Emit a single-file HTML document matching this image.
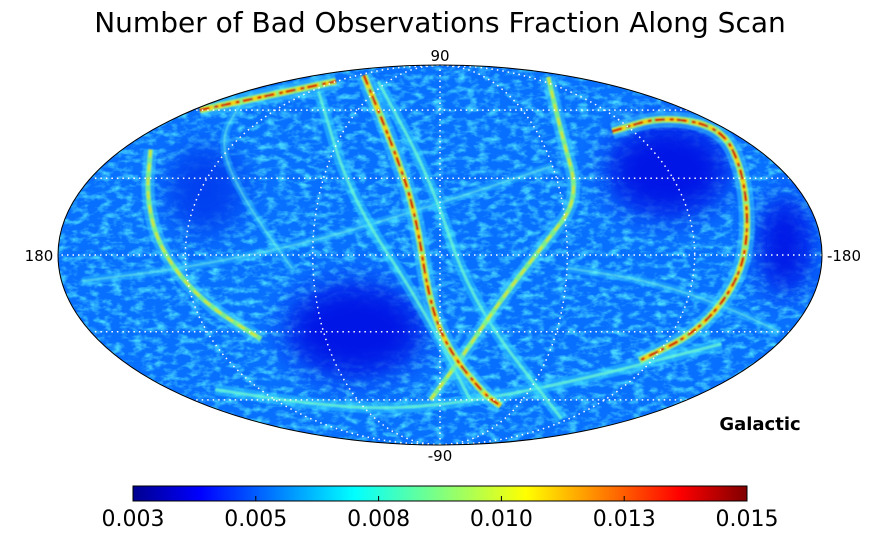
<!DOCTYPE html>
<html><head><meta charset="utf-8"><style>
html,body{margin:0;padding:0;background:#fff;}
svg{display:block;font-family:"DejaVu Sans","Liberation Sans",sans-serif;}
</style></head><body>
<svg id="chart" width="872" height="537" viewBox="0 0 872 537">
<defs>
  <clipPath id="ell"><ellipse cx="440" cy="255" rx="382" ry="190"/></clipPath>
  <linearGradient id="jet" x1="0" x2="1" y1="0" y2="0">
    <stop offset="0" stop-color="#00008f"/><stop offset="0.11" stop-color="#0000ff"/>
    <stop offset="0.36" stop-color="#00ffff"/><stop offset="0.5" stop-color="#80ff80"/>
    <stop offset="0.64" stop-color="#ffff00"/><stop offset="0.89" stop-color="#ff0000"/>
    <stop offset="1" stop-color="#800000"/>
  </linearGradient>
  <filter id="noise" x="0" y="0" width="100%" height="100%">
    <feTurbulence type="fractalNoise" baseFrequency="0.09 0.16" numOctaves="3" seed="7"/>
    <feColorMatrix type="matrix" values="0 0 0 0 0.1  0 0 0 0 0.9  0 0 0 0 1  0 0 0 2.4 -1.05"/>
  </filter>
  <filter id="blur"><feGaussianBlur stdDeviation="14"/></filter>
  <filter id="soft"><feGaussianBlur stdDeviation="0.8"/></filter>
</defs>
<text x="440" y="32" font-size="28" text-anchor="middle" fill="#000">Number of Bad Observations Fraction Along Scan</text>
<g clip-path="url(#ell)">
  <rect x="50" y="60" width="780" height="390" fill="#0870ff"/>
  <rect x="50" y="60" width="780" height="390" filter="url(#noise)" opacity="0.8"/>
  <g filter="url(#blur)" fill="#0018e6">
    <ellipse cx="355" cy="330" rx="70" ry="48"/>
    <ellipse cx="668" cy="170" rx="62" ry="48"/>
    <ellipse cx="785" cy="245" rx="28" ry="50"/>
    <ellipse cx="205" cy="190" rx="40" ry="45" fill="#0040f0"/>
  </g>
  <g id="tracks" filter="url(#soft)"></g>
  <g id="grid"></g>
</g>
<ellipse cx="440" cy="255" rx="382" ry="190" fill="none" stroke="#000" stroke-width="1"/>
<text x="440" y="61" font-size="15" text-anchor="middle">90</text>
<text x="440" y="461" font-size="15" text-anchor="middle">-90</text>
<text x="39" y="261" font-size="15" text-anchor="middle">180</text>
<text x="844" y="261" font-size="15" text-anchor="middle">-180</text>
<text x="760" y="430" font-size="18" font-weight="bold" text-anchor="middle">Galactic</text>
<rect x="133" y="486" width="614" height="15" fill="url(#jet)" stroke="#000" stroke-width="1"/>
<g id="cbticks"></g>
</svg>
<script>
const cbTickLabels = ["0.003","0.005","0.008","0.010","0.013","0.015"];
const cbMin = 0.003, cbMax = 0.015;
const cbTickValues = [0.003,0.0054,0.0078,0.0102,0.0126,0.015];
const trackA_lon = [110,26,12,5,-5,-30,-47];
const trackA_lat = [80,42,17,-19,-38,-57,-63];
const trackB_lon = [-147,-75,-69,-49,-29,-11,7];
const trackB_lat = [79,50,22,4,-18,-42,-60];
const trackLoop_lon = [-107,-153,-179,-160,-147,-142,-133,-113];
const trackLoop_lat = [50,57,52,34,10,-10,-30,-42];
const trackLeft_lon = [164,145,132,116,94];
const trackLeft_lat = [42,22,2,-18,-33];
const trackTop_lon = [175,141,121];
const trackTop_lat = [60,70,76];
const trackC_lon = [113,44,10,-22];
const trackC_lat = [70,22,-18,-60];
const trackD_lon = [72,5,-15,-113];
const trackD_lat = [76,30,-18,-70];
const trackE_lon = [170,120,60,0,-60];
const trackE_lat = [-10,-5,5,20,35];
const trackF_lon = [150,100,40,-30,-90,-150];
const trackF_lat = [-55,-62,-65,-60,-50,-35];
const trackG_lon = [-60,-100,-140,-175];
const trackG_lat = [-5,-10,-20,-30];
const trackH_lon = [160,130,95,70];
const trackH_lat = [65,45,20,-5];
const gridLats = [-60,-30,0,30,60];
const gridLons = [-120,-60,0,60,120];

const CX=440, CY=255, RX=382, RY=190;
function proj(lon, lat){
  const phi = lat*Math.PI/180;
  let t = phi;
  for(let i=0;i<30;i++){
    const f = 2*t+Math.sin(2*t)-Math.PI*Math.sin(phi);
    const d = 2+2*Math.cos(2*t);
    if(Math.abs(d)<1e-9) break;
    t -= f/d;
  }
  return [CX - RX*(lon/180)*Math.cos(t), CY - RY*Math.sin(t)];
}
const NS="http://www.w3.org/2000/svg";
function pathFrom(lons, lats){
  const pts = lons.map((l,i)=>proj(l,lats[i]));
  let d = "M"+pts[0][0].toFixed(1)+","+pts[0][1].toFixed(1);
  for(let i=1;i<pts.length;i++){
    const p0=pts[i-1], p1=pts[i];
    const mx=(p0[0]+p1[0])/2, my=(p0[1]+p1[1])/2;
    d += " Q"+p0[0].toFixed(1)+","+p0[1].toFixed(1)+" "+mx.toFixed(1)+","+my.toFixed(1);
  }
  d += " L"+pts[pts.length-1][0].toFixed(1)+","+pts[pts.length-1][1].toFixed(1);
  return d;
}
const tg = document.getElementById("tracks");
function addTrack(name, lons, lats, layers){
  layers.forEach(([c,w,o,dash])=>{
    const p=document.createElementNS(NS,"path");
    p.setAttribute("d",pathFrom(lons,lats));
    p.setAttribute("fill","none");
    p.setAttribute("stroke",c);
    p.setAttribute("stroke-width",w);
    p.setAttribute("opacity",o);
    if(dash) p.setAttribute("stroke-dasharray",dash);
    
    
    tg.appendChild(p);
  });
}
const hot=[["#40e0ff",16,0.45],["#a0ff60",7,0.85],["#ffd000",4,0.9,"14 4 6 3"],["#d00000",2.5,0.95,"10 5 4 3"]];
const warm=[["#40e0ff",13,0.45],["#90ff70",5,0.8],["#ffe000",2,0.7,"8 6"]];
const cool=[["#30d8ff",11,0.5],["#70ffd0",3,0.75]];
const faint=[["#30d0ff",8,0.4],["#80ffe0",2,0.5]];
addTrack("scan-track-e",trackE_lon,trackE_lat,faint);
addTrack("scan-track-f",trackF_lon,trackF_lat,cool);
addTrack("scan-track-g",trackG_lon,trackG_lat,faint);
addTrack("scan-track-h",trackH_lon,trackH_lat,faint);
addTrack("scan-track-c",trackC_lon,trackC_lat,cool);
addTrack("scan-track-d",trackD_lon,trackD_lat,cool);
addTrack("scan-track-left",trackLeft_lon,trackLeft_lat,warm);
addTrack("scan-track-top",trackTop_lon,trackTop_lat,hot);
addTrack("scan-track-loop",trackLoop_lon,trackLoop_lat,hot);
addTrack("scan-track-b",trackB_lon,trackB_lat,warm);
addTrack("scan-track-a",trackA_lon,trackA_lat,hot);

const gg=document.getElementById("grid");
function gridLine(name,pts){
  const p=document.createElementNS(NS,"polyline");
  p.setAttribute("points",pts.map(q=>q[0].toFixed(1)+","+q[1].toFixed(1)).join(" "));
  p.setAttribute("fill","none");
  p.setAttribute("stroke","#fff");
  p.setAttribute("stroke-width","1.5");
  p.setAttribute("stroke-dasharray","1.5 4");
  
  
  gg.appendChild(p);
}
gridLats.forEach(la=>{const pts=[];for(let lo=-180;lo<=180;lo+=5)pts.push(proj(lo,la));gridLine("graticule-lat",pts);});
gridLons.forEach(lo=>{const pts=[];for(let la=-90;la<=90;la+=3)pts.push(proj(lo,la));gridLine("graticule-lon",pts);});

const ct=document.getElementById("cbticks");
cbTickValues.forEach((v,i)=>{
  const x=133+(v-cbMin)/(cbMax-cbMin)*614;
  const l=document.createElementNS(NS,"line");
  l.setAttribute("x1",x);l.setAttribute("x2",x);l.setAttribute("y1",496);l.setAttribute("y2",501);
  l.setAttribute("stroke","#000");
  
  
  ct.appendChild(l);
  const t=document.createElementNS(NS,"text");
  t.setAttribute("x",x);t.setAttribute("y",526);t.setAttribute("font-size","22");
  t.setAttribute("text-anchor","middle");
  t.textContent=cbTickLabels[i];
  
  
  ct.appendChild(t);
});
</script>
</body></html>
